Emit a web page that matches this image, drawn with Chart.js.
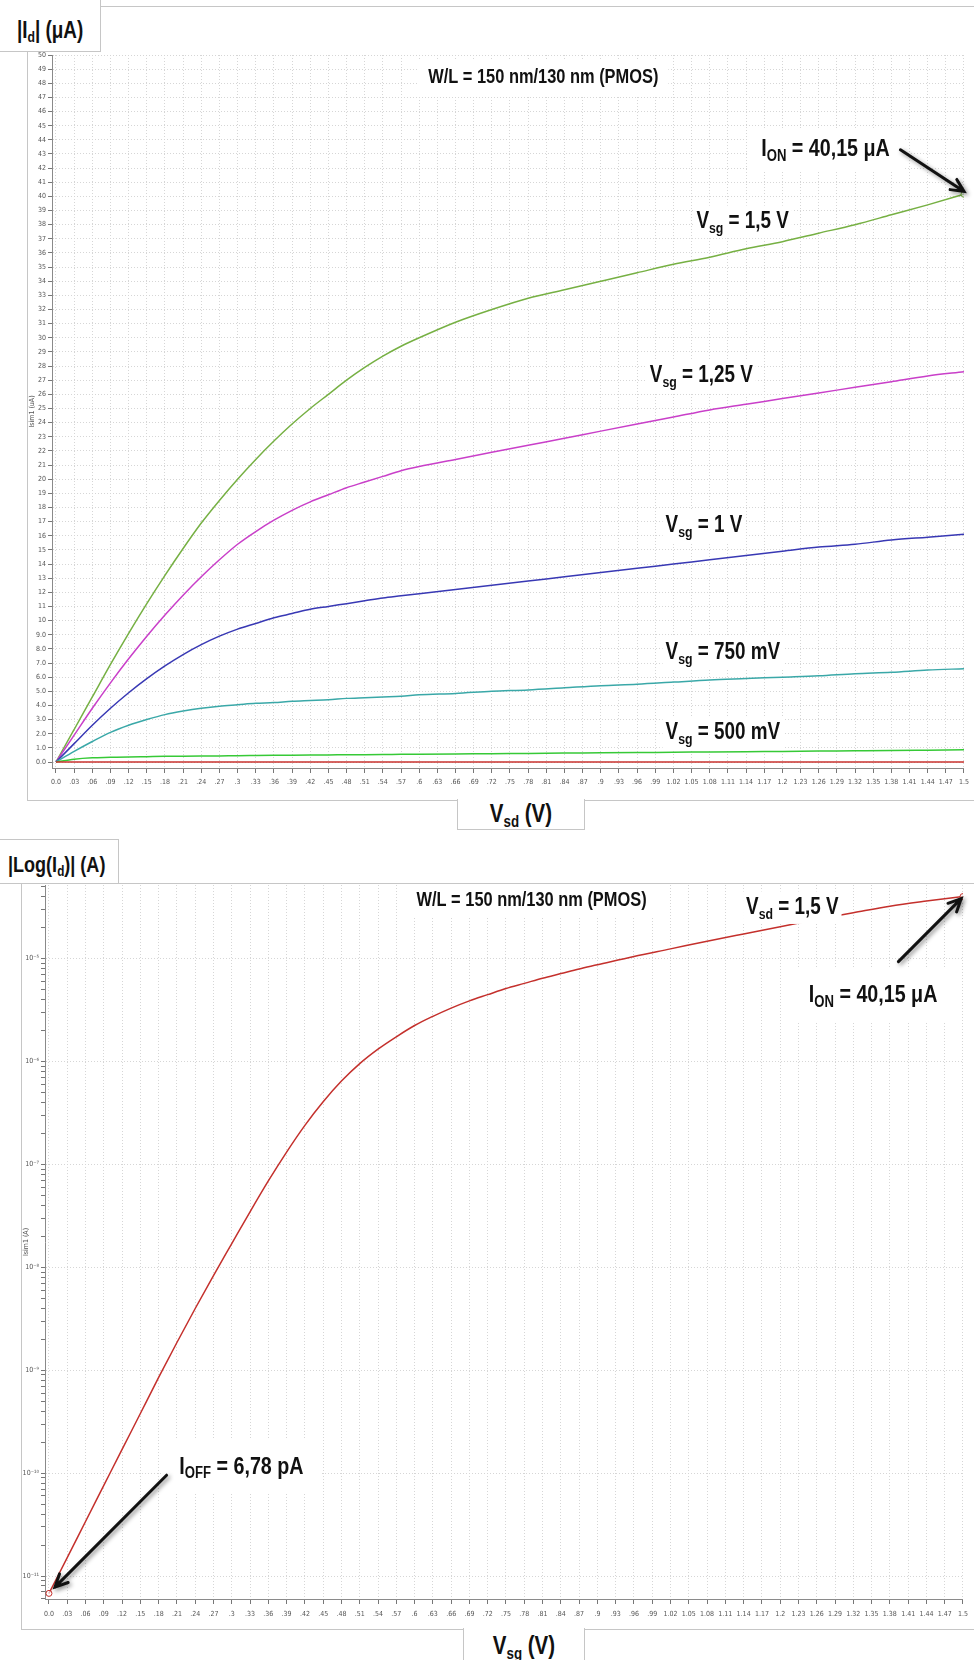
<!DOCTYPE html>
<html>
<head>
<meta charset="utf-8">
<script src="https://cdn.jsdelivr.net/npm/chart.js@4.4.1/dist/chart.umd.min.js"></script>
<style>
body { margin: 0; background: #fff; }
#page { position: relative; width: 974px; height: 1660px; overflow: hidden; font-family: "Liberation Sans", Arial, sans-serif; }
.frame { position: absolute; box-sizing: border-box; border: 1px solid #c6c6c6; border-right: none; z-index: 0; }
.tab { position: absolute; box-sizing: border-box; background: #fff; border: 1px solid #c6c6c6; font-weight: bold; color: #111; z-index: 2; white-space: nowrap; }
.tab span { display: inline-block; transform: scaleX(0.82); }
.wrap { position: absolute; z-index: 1; }
sub { font-size: 65%; vertical-align: -0.3em; line-height: 0; }
</style>
</head>
<body>
<div id="page">
  <div class="frame" style="left:27px; top:6px; width:960px; height:795px;"></div>
  <div class="tab" style="left:-1px; top:-1px; width:102px; height:53px; font-size:23px; padding:17px 0 0 17px;"><span style="transform-origin:left center;">|I<sub>d</sub>| (μA)</span></div>
  <div class="wrap" style="left:28px; top:7px; width:946px; height:792px;"><canvas id="grafica1"></canvas></div>
  <div class="tab" style="left:457px; top:799px; width:128px; height:31px; border-top:none; font-size:25px; text-align:center; padding-top:0;"><span>V<sub>sd</sub> (V)</span></div>

  <div class="frame" style="left:21px; top:883px; width:960px; height:747px;"></div>
  <div class="tab" style="left:-1px; top:839px; width:120px; height:45px; font-size:22px; padding:12px 0 0 8px;"><span style="transform-origin:left center;">|Log(I<sub>d</sub>)| (A)</span></div>
  <div class="wrap" style="left:22px; top:860px; width:952px; height:768px;"><canvas id="grafica2"></canvas></div>
  <div class="tab" style="left:463px; top:1628px; width:122px; height:40px; border-top:none; font-size:25px; text-align:center; padding-top:3px;"><span>V<sub>sg</sub> (V)</span></div>
</div>

<script>
// Id - Vsd curves (uA), one array per Vsg
var vsd = [0, .03, .06, .09, .12, .15, .18, .21, .24, .27, .3, .33, .36, .39, .42, .45, .48, .51, .54, .57, .6, .66, .72, .78, .84, .9, .96, 1.02, 1.08, 1.14, 1.2, 1.26, 1.32, 1.38, 1.44, 1.5]
var id150 = [0, 2.3, 4.6, 6.9, 9.1, 11.2, 13.2, 15.1, 16.9, 18.5, 20.0, 21.4, 22.7, 23.9, 25.0, 26.0, 27.0, 27.9, 28.7, 29.4, 30.0, 31.1, 32.0, 32.8, 33.4, 34.0, 34.6, 35.2, 35.7, 36.3, 36.8, 37.4, 38.0, 38.7, 39.4, 40.15]
var id125 = [0, 1.9, 3.8, 5.6, 7.3, 8.9, 10.4, 11.8, 13.1, 14.3, 15.4, 16.3, 17.1, 17.8, 18.4, 18.9, 19.4, 19.8, 20.2, 20.6, 20.9, 21.4, 21.9, 22.4, 22.9, 23.4, 23.9, 24.4, 24.9, 25.3, 25.7, 26.1, 26.5, 26.9, 27.3, 27.6]
var id100 = [0, 1.3, 2.6, 3.8, 4.9, 5.9, 6.8, 7.6, 8.3, 8.9, 9.4, 9.8, 10.2, 10.5, 10.8, 11.0, 11.2, 11.4, 11.6, 11.75, 11.9, 12.2, 12.5, 12.8, 13.1, 13.4, 13.7, 14.0, 14.3, 14.6, 14.9, 15.2, 15.4, 15.7, 15.9, 16.1]
var id075 = [0, 0.75, 1.45, 2.1, 2.6, 3.0, 3.35, 3.6, 3.8, 3.95, 4.05, 4.15, 4.2, 4.3, 4.35, 4.4, 4.5, 4.55, 4.6, 4.65, 4.75, 4.85, 5.0, 5.1, 5.25, 5.4, 5.5, 5.65, 5.8, 5.9, 6.0, 6.1, 6.25, 6.35, 6.5, 6.6]
var id050 = [0, 0.2, 0.3, 0.33, 0.36, 0.38, 0.4, 0.41, 0.42, 0.43, 0.45, 0.46, 0.47, 0.48, 0.49, 0.5, 0.51, 0.52, 0.53, 0.54, 0.55, 0.57, 0.59, 0.61, 0.63, 0.65, 0.67, 0.69, 0.71, 0.73, 0.75, 0.77, 0.79, 0.81, 0.84, 0.87]
var id000 = [0, 0, 0, 0, 0, 0, 0, 0, 0, 0, 0, 0, 0, 0, 0, 0, 0, 0, 0, 0, 0, 0, 0, 0, 0, 0, 0, 0, 0, 0, 0, 0, 0, 0, 0, 0]

// |Id| - Vsg at Vsd = 1,5 V (A)
var vsg = [0, .03, .06, .09, .12, .15, .18, .21, .24, .27, .3, .33, .36, .39, .42, .45, .48, .51, .54, .57, .6, .63, .66, .69, .72, .75, .78, .81, .84, .87, .9, .96, 1.02, 1.08, 1.14, 1.2, 1.26, 1.32, 1.38, 1.44, 1.5]
var idLog = [6.78e-12, 1.51e-11, 3.39e-11, 7.59e-11, 1.70e-10, 3.80e-10, 8.51e-10, 1.86e-9, 3.98e-9, 8.32e-9, 1.70e-8, 3.47e-8, 6.92e-8, 1.32e-7, 2.40e-7, 4.07e-7, 6.46e-7, 9.55e-7, 1.32e-6, 1.74e-6, 2.24e-6, 2.75e-6, 3.31e-6, 3.89e-6, 4.47e-6, 5.13e-6, 5.75e-6, 6.46e-6, 7.16e-6, 7.94e-6, 8.71e-6, 1.05e-5, 1.245e-5, 1.48e-5, 1.74e-5, 2.04e-5, 2.40e-5, 2.79e-5, 3.24e-5, 3.63e-5, 4.015e-5]

// tick labels
var xTicks = []
for (let i = 0; i <= 50; i++) xTicks.push(+(i * 0.03).toFixed(2))
var yTicks = []
for (let i = 0; i <= 50; i++) yTicks.push(i)

var tickFont = { family: "'DejaVu Sans Condensed', 'Liberation Sans', sans-serif", size: 7 }
var labelFont = "'Liberation Sans', Arial, sans-serif"
var narrow = 0.82 // the labels are in a narrow bold face

function fmtX(v) {
    if (v === 0) return '0.0'
    var s = parseFloat(v.toFixed(2)).toString()
    return s.charAt(0) === '0' ? s.substring(1) : s
}

function fmtY(v) {
    return v < 10 ? v.toFixed(1) : String(v)
}

var sup = { '-': '⁻', '0': '⁰', '1': '¹', '2': '²', '3': '³', '4': '⁴', '5': '⁵', '6': '⁶', '7': '⁷', '8': '⁸', '9': '⁹' }
function isDecade(v) {
    var e = Math.log10(v)
    return Math.abs(e - Math.round(e)) < 1e-6
}
function fmtLog(v) {
    if (!isDecade(v)) return ''
    var e = String(Math.round(Math.log10(v)))
    return '10' + e.split('').map(c => sup[c]).join('')
}

function pts(xs, ys) {
    return xs.map((x, i) => ({ x: x, y: ys[i] }))
}

// labels, boxes and arrows placed in data units
function notas(items) {
    return {
        id: 'notas',
        afterDraw: function (chart) {
            var ctx = chart.ctx
            var sx = chart.scales.x, sy = chart.scales.y
            items.forEach(function (it) {
                if (it.type !== 'text') return
                var x = sx.getPixelForValue(it.x), y = sy.getPixelForValue(it.y)
                var big = 'bold ' + it.size + 'px ' + labelFont
                var small = 'bold ' + Math.round(it.size * 0.65) + 'px ' + labelFont
                var w = 0
                it.parts.forEach(function (p) {
                    ctx.font = p[1] ? small : big
                    w += ctx.measureText(p[0]).width
                })
                w = w * narrow
                var x0 = it.align === 'center' ? x - w / 2 : x
                ctx.save()
                ctx.fillStyle = '#fff'
                var h = it.size * 0.62
                ctx.fillRect(x0 - it.padX, y - h - it.padY, w + 2 * it.padX, 2 * h + 2 * it.padY)
                ctx.fillStyle = '#111'
                ctx.textBaseline = 'middle'
                ctx.textAlign = 'left'
                ctx.translate(x0, 0)
                ctx.scale(narrow, 1)
                var cx = 0
                it.parts.forEach(function (p) {
                    ctx.font = p[1] ? small : big
                    ctx.fillText(p[0], cx, p[1] ? y + it.size * 0.3 : y)
                    cx += ctx.measureText(p[0]).width
                })
                ctx.restore()
            })
            items.forEach(function (it) {
                if (it.type !== 'arrow') return
                var x1 = sx.getPixelForValue(it.x1), y1 = sy.getPixelForValue(it.y1)
                var x2 = sx.getPixelForValue(it.x2), y2 = sy.getPixelForValue(it.y2)
                var a = Math.atan2(y2 - y1, x2 - x1)
                ctx.save()
                ctx.shadowColor = 'rgba(0,0,0,0.45)'
                ctx.shadowBlur = 4
                ctx.shadowOffsetX = 2
                ctx.shadowOffsetY = 2
                ctx.strokeStyle = '#111'
                ctx.lineWidth = 3
                ctx.lineCap = 'round'
                ctx.beginPath()
                ctx.moveTo(x1, y1)
                ctx.lineTo(x2, y2)
                ctx.moveTo(x2 - 14 * Math.cos(a - 0.45), y2 - 14 * Math.sin(a - 0.45))
                ctx.lineTo(x2, y2)
                ctx.lineTo(x2 - 14 * Math.cos(a + 0.45), y2 - 14 * Math.sin(a + 0.45))
                ctx.stroke()
                ctx.restore()
            })
        }
    }
}

function serie(label, xs, ys, color, marks) {
    return {
        label: label,
        data: pts(xs, ys),
        borderColor: color,
        backgroundColor: color,
        borderWidth: 1.5,
        cubicInterpolationMode: 'monotone',
        pointRadius: ctx => marks.indexOf(ctx.dataIndex) >= 0 ? 3 : 0,
        pointBackgroundColor: 'rgba(255,255,255,0.6)',
        pointBorderColor: color,
        pointBorderWidth: 1
    }
}

function ejeX(min, h, pad) {
    return {
        type: 'linear',
        min: min,
        max: 1.5,
        afterBuildTicks: s => { s.ticks = xTicks.map(v => ({ value: v })) },
        afterFit: s => { s.height = h },
        ticks: { autoSkip: false, maxRotation: 0, minRotation: 0, padding: pad, font: tickFont, color: '#555', callback: v => fmtX(v) },
        grid: { color: '#d6d6d6', tickColor: '#777', tickLength: 5 },
        border: { color: '#8a8a8a', dash: [1, 2] }
    }
}

var g1 = [
    { type: 'text', x: 0.805, y: 48.4, align: 'center', size: 20, padX: 10, padY: 5, parts: [['W/L = 150 nm/130 nm (PMOS)']] },
    { type: 'text', x: 1.165, y: 43.3, align: 'left', size: 24, padX: 14, padY: 6, parts: [['I'], ['ON', 1], [' = 40,15 μA']] },
    { type: 'text', x: 1.058, y: 38.2, align: 'left', size: 23, padX: 3, padY: 2, parts: [['V'], ['sg', 1], [' = 1,5 V']] },
    { type: 'text', x: 0.981, y: 27.3, align: 'left', size: 23, padX: 3, padY: 2, parts: [['V'], ['sg', 1], [' = 1,25 V']] },
    { type: 'text', x: 1.007, y: 16.7, align: 'left', size: 23, padX: 3, padY: 2, parts: [['V'], ['sg', 1], [' = 1 V']] },
    { type: 'text', x: 1.007, y: 7.7, align: 'left', size: 23, padX: 3, padY: 2, parts: [['V'], ['sg', 1], [' = 750 mV']] },
    { type: 'text', x: 1.007, y: 2.05, align: 'left', size: 23, padX: 3, padY: 2, parts: [['V'], ['sg', 1], [' = 500 mV']] },
    { type: 'arrow', x1: 1.395, y1: 43.3, x2: 1.5, y2: 40.35 }
]

var chart1 = new Chart(document.getElementById('grafica1'), {
    type: 'line',
    data: {
        datasets: [
            serie('Vsg = 0 V', vsd, id000, '#c8322e', []),
            serie('Vsg = 500 mV', vsd, id050, '#36c936', []),
            serie('Vsg = 750 mV', vsd, id075, '#3aa8a8', []),
            serie('Vsg = 1 V', vsd, id100, '#3838b4', []),
            serie('Vsg = 1,25 V', vsd, id125, '#c93fc9', []),
            serie('Vsg = 1,5 V', vsd, id150, '#76b043', [35])
        ]
    },
    options: {
        responsive: true,
        maintainAspectRatio: false,
        animation: false,
        layout: { padding: { top: 48, right: 5, left: 0, bottom: 0 } },
        plugins: { legend: { display: false }, tooltip: { enabled: false } },
        scales: {
            x: ejeX(-0.0066, 31, 5),
            y: {
                type: 'linear',
                min: -0.424,
                max: 50,
                afterBuildTicks: s => { s.ticks = yTicks.map(v => ({ value: v })) },
                afterFit: s => { s.width = 24 },
                ticks: { autoSkip: false, padding: 2, font: tickFont, color: '#555', callback: v => fmtY(v) },
                grid: { color: '#d6d6d6', tickColor: '#777', tickLength: 4 },
                border: { color: '#8a8a8a', dash: [1, 2] },
                title: { display: true, text: 'Isim1 (uA)', font: tickFont, color: '#555', padding: 0 }
            }
        }
    },
    plugins: [notas(g1)]
});

var g2 = [
    { type: 'text', x: 0.792, y: 3.66e-5, align: 'center', size: 20, padX: 8, padY: 4, parts: [['W/L = 150 nm/130 nm (PMOS)']] },
    { type: 'text', x: 1.144, y: 3.13e-5, align: 'left', size: 23, padX: 3, padY: 2, parts: [['V'], ['sd', 1], [' = 1,5 V']] },
    { type: 'text', x: 1.247, y: 4.37e-6, align: 'left', size: 24, padX: 20, padY: 12, parts: [['I'], ['ON', 1], [' = 40,15 μA']] },
    { type: 'text', x: 0.214, y: 1.15e-10, align: 'left', size: 24, padX: 18, padY: 12, parts: [['I'], ['OFF', 1], [' = 6,78 pA']] },
    { type: 'arrow', x1: 1.394, y1: 9.35e-6, x2: 1.497, y2: 3.83e-5 },
    { type: 'arrow', x1: 0.193, y1: 9.55e-11, x2: 0.0098, y2: 7.8e-12 }
]

var chart2 = new Chart(document.getElementById('grafica2'), {
    type: 'line',
    data: {
        datasets: [serie('Vsd = 1,5 V', vsg, idLog, '#c4302c', [0, 40])]
    },
    options: {
        responsive: true,
        maintainAspectRatio: false,
        animation: false,
        layout: { padding: { top: 25, right: 6, left: 0, bottom: 0 } },
        plugins: { legend: { display: false }, tooltip: { enabled: false } },
        scales: {
            x: ejeX(-0.0065, 29, 6),
            y: {
                type: 'logarithmic',
                min: 5.98e-12,
                max: 5.2e-5,
                afterBuildTicks: s => {
                    var t = []
                    for (let e = -12; e <= -5; e++) {
                        for (let m = 1; m <= 9; m++) {
                            var v = m * Math.pow(10, e)
                            if (v >= s.min && v <= s.max) t.push({ value: v, major: m === 1 })
                        }
                    }
                    s.ticks = t
                },
                afterFit: s => { s.width = 23 },
                ticks: { autoSkip: false, padding: 2, font: tickFont, color: '#555', callback: v => fmtLog(v) },
                grid: {
                    color: c => (c.tick && isDecade(c.tick.value)) ? '#d6d6d6' : 'rgba(0,0,0,0)',
                    tickColor: '#777',
                    tickLength: 4
                },
                border: { color: '#8a8a8a', dash: [1, 2] },
                title: { display: true, text: 'Isim1 (A)', font: tickFont, color: '#555', padding: 0 }
            }
        }
    },
    plugins: [notas(g2)]
});
</script>
</body>
</html>
